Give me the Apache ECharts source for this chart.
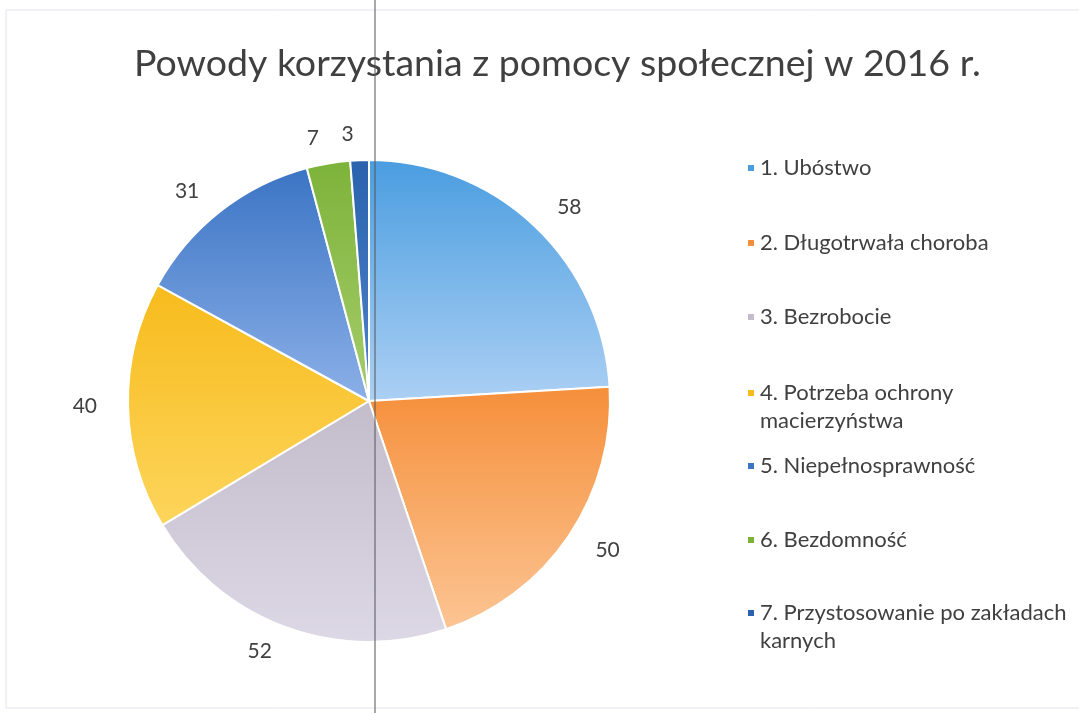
<!DOCTYPE html>
<html><head><meta charset="utf-8">
<script src="https://cdn.jsdelivr.net/npm/echarts@6/dist/echarts.min.js"></script>
<style>html,body{margin:0;padding:0;background:#fff}#c{width:1079px;height:713px}</style>
</head><body><div id="c"></div>
<script>
const titleText = 'Powody korzystania z pomocy społecznej w 2016 r.';
const categories = ['1. Ubóstwo','2. Długotrwała choroba','3. Bezrobocie','4. Potrzeba ochrony\nmacierzyństwa','5. Niepełnosprawność','6. Bezdomność','7. Przystosowanie po zakładach\nkarnych'];
const values = [58, 50, 52, 40, 31, 7, 3];
const colorsTop = ['#4a9de0','#f58f3a','#c2bccb','#f7bb1c','#3b74c4','#7db33a','#2a62ad'];
const colorsBottom = ['#acd0f4','#fcc594','#ddd8e5','#fdd55c','#8cb0e8','#a6cd6c','#4f84cb'];
const legendTops = [149, 224, 298, 374, 447, 521, 594];

const chart = echarts.init(document.getElementById('c'));
const data = values.map((v, i) => ({
  name: categories[i], value: v,
  itemStyle: { color: new echarts.graphic.LinearGradient(0, 0, 0, 1, [
    { offset: 0, color: colorsTop[i] }, { offset: 1, color: colorsBottom[i] }]) }
}));
const legends = categories.map((c, i) => {
  const multi = c.indexOf('\n') >= 0;
  return {
    data: [{ name: c, itemStyle: { color: colorsTop[i] } }],
    orient: 'vertical', left: 741, top: legendTops[i],
    icon: multi ? 'path://M0,0L8,0L8,8L0,8Z M0,36' : 'rect',
    itemWidth: 8, itemHeight: multi ? 36 : 8, itemGap: 0,
    selectedMode: false,
    textStyle: { fontFamily: 'Lato', fontSize: 22, color: '#404040', lineHeight: 28 }
  };
});
chart.setOption({
  backgroundColor: '#ffffff',
  title: { text: titleText, left: 129, top: 40,
    textStyle: { fontFamily: 'Lato', fontSize: 37.5, fontWeight: 'normal', color: '#404040' } },
  legend: legends,
  graphic: [
    { type: 'rect', shape: { x: 6, y: 10, width: 1090, height: 698 },
      style: { fill: 'none', stroke: '#e4e4ec', lineWidth: 1 }, silent: true },
    { type: 'line', shape: { x1: 375, y1: 0, x2: 375, y2: 713 },
      style: { stroke: '#555', lineWidth: 1 }, silent: true, z: 100 }
  ],
  series: [{
    type: 'pie', center: [369, 401], radius: 241,
    startAngle: 90, clockwise: true, animation: false,
    avoidLabelOverlap: false,
    itemStyle: { borderColor: '#fff', borderWidth: 2 },
    label: { show: true, position: 'outside', formatter: '{c}',
      fontFamily: 'Lato', fontSize: 21, color: '#404040' },
    labelLine: { show: false, length: 26, length2: 0 },
    emphasis: { disabled: true },
    data: data
  }]
});
</script></body></html>
